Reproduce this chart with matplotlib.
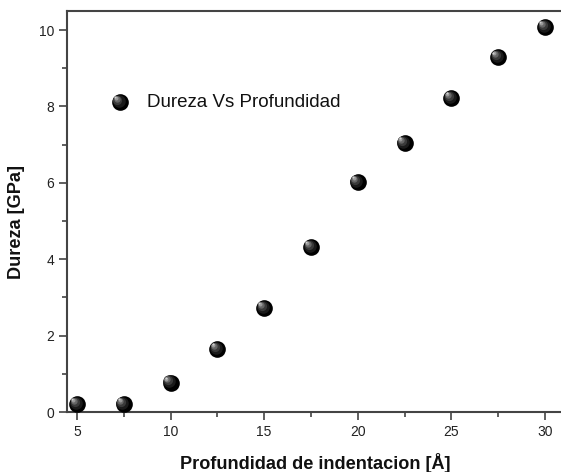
import matplotlib
matplotlib.use("Agg")
import matplotlib.pyplot as plt
from matplotlib.transforms import offset_copy
from matplotlib.ticker import MultipleLocator

plt.rcParams['font.family'] = ['Liberation Sans', 'DejaVu Sans']

# datos
profundidad = [5, 7.5, 10, 12.5, 15, 17.5, 20, 22.5, 25, 27.5, 30]
dureza = [0.21, 0.21, 0.77, 1.65, 2.72, 4.32, 6.02, 7.04, 8.22, 9.29, 10.08]
serie = "Dureza Vs Profundidad"

fig = plt.figure(figsize=(5.61, 4.72), dpi=100)
ax = fig.add_axes([0.1194, 0.1271, 0.8806, 0.8496])

R = 12  # diametro de la esfera en puntos


def esfera(ax, x, y, transform):
    # esfera negra con brillo hacia arriba a la izquierda
    ax.scatter(x, y, s=R**2, color='black', transform=transform, zorder=3,
               linewidths=0, clip_on=False)
    capas = [(0.75, '#1a1a1a'), (0.55, '#3a3a3a'), (0.38, '#666666'),
             (0.24, '#9a9a9a'), (0.12, '#d0d0d0')]
    for f, c in capas:
        d = (1 - f) * R * 0.32
        t = offset_copy(transform, fig=fig, x=-d, y=d, units='points')
        ax.scatter(x, y, s=(R * f)**2, color=c, transform=t, zorder=4,
                   linewidths=0, clip_on=False)


esfera(ax, profundidad, dureza, ax.transData)

# leyenda
esfera(ax, [0.107], [0.773], ax.transAxes)
ax.text(0.162, 0.773, serie, transform=ax.transAxes, fontsize=13.5,
        va='center', ha='left', color='#111111')

ax.set_xlim(4.47, 30.86)
ax.set_ylim(0, 10.5)
ax.xaxis.set_major_locator(MultipleLocator(5))
ax.xaxis.set_minor_locator(MultipleLocator(2.5))
ax.yaxis.set_major_locator(MultipleLocator(2))
ax.yaxis.set_minor_locator(MultipleLocator(1))

for s in ['left', 'bottom', 'top']:
    ax.spines[s].set_linewidth(1.5)
    ax.spines[s].set_color('#444444')
ax.spines['right'].set_visible(False)

ax.tick_params(which='major', direction='out', length=6, width=1.1,
               color='#333333', labelsize=10, labelcolor='#222222', pad=3)
ax.tick_params(which='minor', direction='out', length=3.5, width=1.1,
               color='#333333')
ax.tick_params(top=False, right=False)

ax.set_xlabel("Profundidad de indentacion [Å]", fontsize=13.1,
              fontweight='bold', color='#111111')
ax.set_ylabel("Dureza [GPa]", fontsize=13.1, fontweight='bold',
              color='#111111')
ax.xaxis.set_label_coords(0.502, -0.102)
ax.yaxis.set_label_coords(-0.085, 0.474)

fig.savefig("out.png", dpi=100)
